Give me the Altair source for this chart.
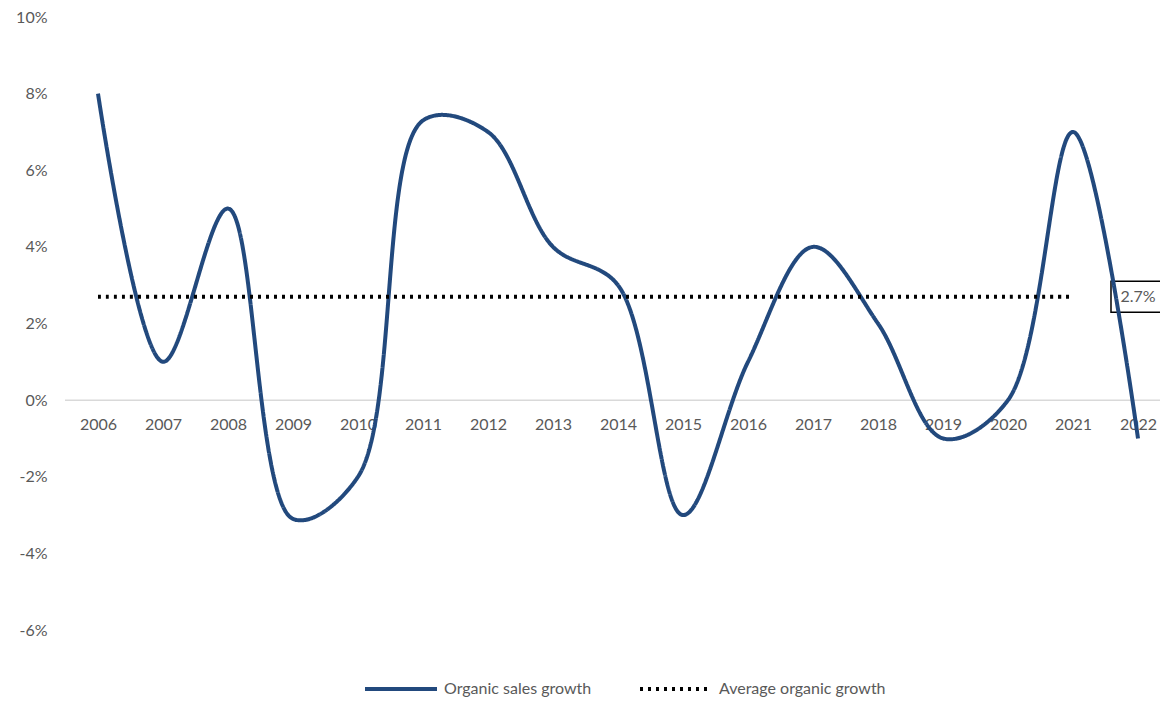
import altair as alt
import pandas as pd

years = ["2006", "2007", "2008", "2009", "2010", "2011", "2012", "2013", "2014",
         "2015", "2016", "2017", "2018", "2019", "2020", "2021", "2022"]
growth = [8, 1, 5, -3.1, -2, 7.3, 7, 4, 3, -3, 1, 4, 2, -1, 0, 7, -1]
avg_years = ["2006", "2007", "2008", "2009", "2010", "2011", "2012", "2013",
             "2014", "2015", "2016", "2017", "2018", "2019", "2020", "2021"]
avg_value = 2.7
avg_label = "2.7%"
label_year = "2022"
series_names = ["Organic sales growth", "Average organic growth"]
y_ticks = [-6, -4, -2, 0, 2, 4, 6, 8, 10]

rows = [{"year": y, "value": v, "series": series_names[0]} for y, v in zip(years, growth)]
rows += [{"year": y, "value": avg_value, "series": series_names[1]} for y in avg_years]
df = pd.DataFrame(rows)
label_df = pd.DataFrame({"year": [label_year], "value": [avg_value], "label": [avg_label]})
zero_df = pd.DataFrame({"year": [years[0]], "value": [0]})

W, H = 1095, 613
FONT = "Lato"
GREY = "#595959"
BLUE = "#22497D"
FS = 16

x_scale = alt.Scale(type="point", domain=years, range=[33, 1073], padding=0)
y_scale = alt.Scale(domain=[-6, 10], nice=False, zero=False)

x_enc = alt.X("year:O", sort=years, scale=x_scale,
              axis=alt.Axis(title=None, domain=False, ticks=False, labelAngle=0,
                            labelPadding=16, offset=-(H * 6 / 16), labelFontSize=FS,
                            labelColor=GREY, labelFont=FONT))
y_enc = alt.Y("value:Q", scale=y_scale,
              axis=alt.Axis(title=None, values=y_ticks, grid=False, domain=False,
                            ticks=False, labelPadding=18, labelFontSize=FS,
                            labelColor=GREY, labelFont=FONT,
                            labelExpr="datum.value + '%'"))

zero_rule = alt.Chart(zero_df).mark_rule(
    color="#D9D9D9", strokeWidth=1.5
).encode(y=y_enc, x=alt.value(0), x2=alt.value(W))

box = alt.Chart(label_df).mark_point(
    shape="M-1.742,-1H1.742V1H-1.742Z", size=961, filled=False,
    stroke="#000000", strokeWidth=1.5, opacity=1
).encode(x=x_enc, y=y_enc)

text = alt.Chart(label_df).mark_text(
    fontSize=FS, color=GREY, font=FONT, align="center", baseline="middle"
).encode(x=x_enc, y=y_enc, text="label:N")

lines = alt.Chart(df).mark_line(
    interpolate="catmull-rom", strokeWidth=4, strokeCap="butt"
).encode(
    x=x_enc, y=y_enc,
    color=alt.Color("series:N", sort=series_names,
                    scale=alt.Scale(domain=series_names, range=[BLUE, "#000000"]),
                    legend=alt.Legend(title=None)),
    strokeDash=alt.StrokeDash("series:N", sort=series_names,
                              scale=alt.Scale(domain=series_names, range=[[1, 0], [3, 5]]),
                              legend=alt.Legend(title=None)),
)

chart = alt.layer(zero_rule, box, text, lines).properties(
    width=W, height=H,
    autosize=alt.AutoSizeParams(type="none"),
    padding={"left": 57, "top": 9, "right": 0, "bottom": 68},
    background="white",
).configure_view(stroke=None).configure_legend(
    orient="none", legendX=298, legendY=634, direction="horizontal",
    symbolType="stroke", symbolSize=5184, symbolStrokeWidth=4,
    labelFontSize=FS, labelColor=GREY, labelFont=FONT, labelOffset=5,
    labelLimit=400, columnPadding=40, titlePadding=0,
)

chart.save("out.html", embed_options={"renderer": "svg", "actions": False})
